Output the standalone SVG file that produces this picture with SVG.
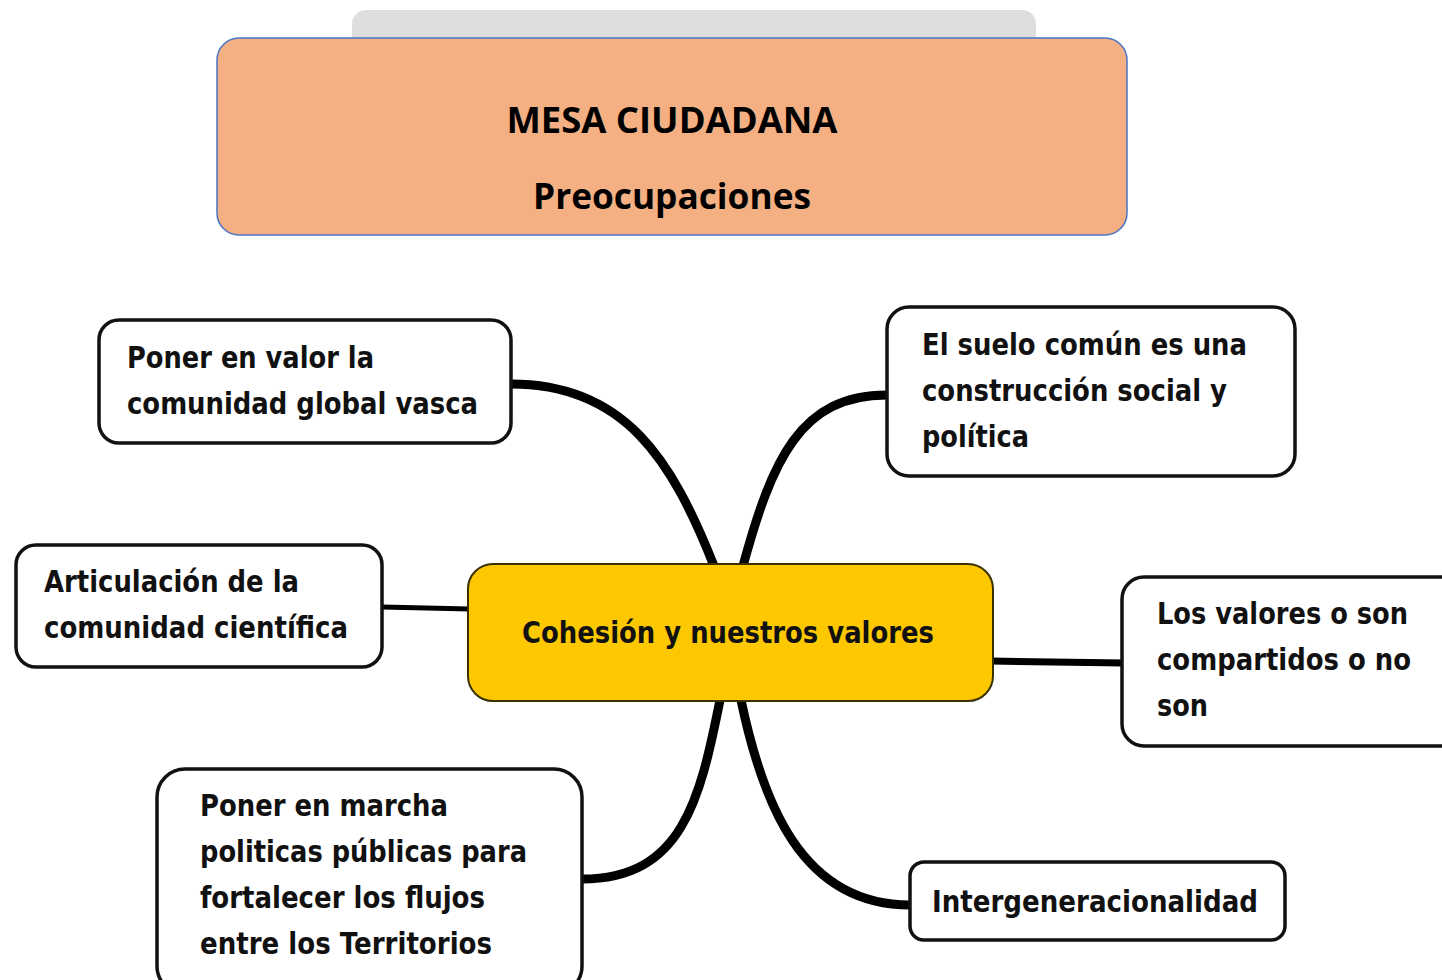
<svg xmlns="http://www.w3.org/2000/svg" width="1442" height="980" viewBox="0 0 1442 980">
<style>
.node{fill:#ffffff;stroke:#111111;stroke-width:3.5}
.t{font-family:"DejaVu Sans",sans-serif;font-weight:bold;font-size:30px;fill:#111111}
.title{font-family:"Open Sans","Liberation Sans",sans-serif;font-weight:bold;font-size:36px;fill:#000000}
.conn{fill:none;stroke:#000000;stroke-linecap:butt}
</style>
<rect x="0" y="0" width="1442" height="980" fill="#ffffff"/>
<g id="header">
<rect x="352" y="10" width="684" height="60" rx="14" fill="#dedede"/>
<rect x="217" y="38" width="910" height="197" rx="22" fill="#f4b083" stroke="#4a74c4" stroke-width="1.5"/>
<text class="title" x="672" y="133" text-anchor="middle" textLength="331" lengthAdjust="spacingAndGlyphs">MESA CIUDADANA</text>
<text class="title" x="672" y="209" text-anchor="middle" textLength="278" lengthAdjust="spacingAndGlyphs">Preocupaciones</text>
</g>
<g id="connectors">
<path class="conn" stroke-width="9" d="M 714 566 C 672 460, 625 384, 511 384"/>
<path class="conn" stroke-width="9" d="M 743 566 C 772 460, 800 395, 887 395"/>
<path class="conn" stroke-width="5" d="M 382 607 L 470 609"/>
<path class="conn" stroke-width="7" d="M 991 661 L 1124 663"/>
<path class="conn" stroke-width="9" d="M 720 700 C 700 800, 682 879, 582 879"/>
<path class="conn" stroke-width="9" d="M 741 700 C 762 800, 800 905, 910 905"/>
</g>
<g id="center">
<rect x="468" y="564" width="525" height="137" rx="25" fill="#fdc800" stroke="#3a3000" stroke-width="2"/>
<text class="t" x="522" y="643" textLength="412" lengthAdjust="spacingAndGlyphs">Cohesión y nuestros valores</text>
</g>
<g id="n1">
<rect class="node" x="99" y="320" width="412" height="123" rx="20"/>
<text class="t" x="127" y="368" textLength="247" lengthAdjust="spacingAndGlyphs">Poner en valor la</text>
<text class="t" x="127" y="414" textLength="351" lengthAdjust="spacingAndGlyphs">comunidad global vasca</text>
</g>
<g id="n2">
<rect class="node" x="16" y="545" width="366" height="122" rx="20"/>
<text class="t" x="44" y="592" textLength="255" lengthAdjust="spacingAndGlyphs">Articulación de la</text>
<text class="t" x="44" y="638" textLength="304" lengthAdjust="spacingAndGlyphs">comunidad científica</text>
</g>
<g id="n3">
<rect class="node" x="157" y="769" width="425" height="225" rx="28"/>
<text class="t" x="200" y="816" textLength="248" lengthAdjust="spacingAndGlyphs">Poner en marcha</text>
<text class="t" x="200" y="862" textLength="327" lengthAdjust="spacingAndGlyphs">politicas públicas para</text>
<text class="t" x="200" y="908" textLength="285" lengthAdjust="spacingAndGlyphs">fortalecer los flujos</text>
<text class="t" x="200" y="954" textLength="292" lengthAdjust="spacingAndGlyphs">entre los Territorios</text>
</g>
<g id="n4">
<rect class="node" x="887" y="307" width="408" height="169" rx="22"/>
<text class="t" x="922" y="355" textLength="325" lengthAdjust="spacingAndGlyphs">El suelo común es una</text>
<text class="t" x="922" y="401" textLength="305" lengthAdjust="spacingAndGlyphs">construcción social y</text>
<text class="t" x="922" y="447" textLength="107" lengthAdjust="spacingAndGlyphs">política</text>
</g>
<g id="n5">
<rect class="node" x="1122" y="577" width="340" height="169" rx="22"/>
<text class="t" x="1157" y="624" textLength="251" lengthAdjust="spacingAndGlyphs">Los valores o son</text>
<text class="t" x="1157" y="670" textLength="254" lengthAdjust="spacingAndGlyphs">compartidos o no</text>
<text class="t" x="1157" y="716" textLength="51" lengthAdjust="spacingAndGlyphs">son</text>
</g>
<g id="n6">
<rect class="node" x="910" y="862" width="375" height="78" rx="14"/>
<text class="t" x="932" y="912" textLength="326" lengthAdjust="spacingAndGlyphs">Intergeneracionalidad</text>
</g>
</svg>
